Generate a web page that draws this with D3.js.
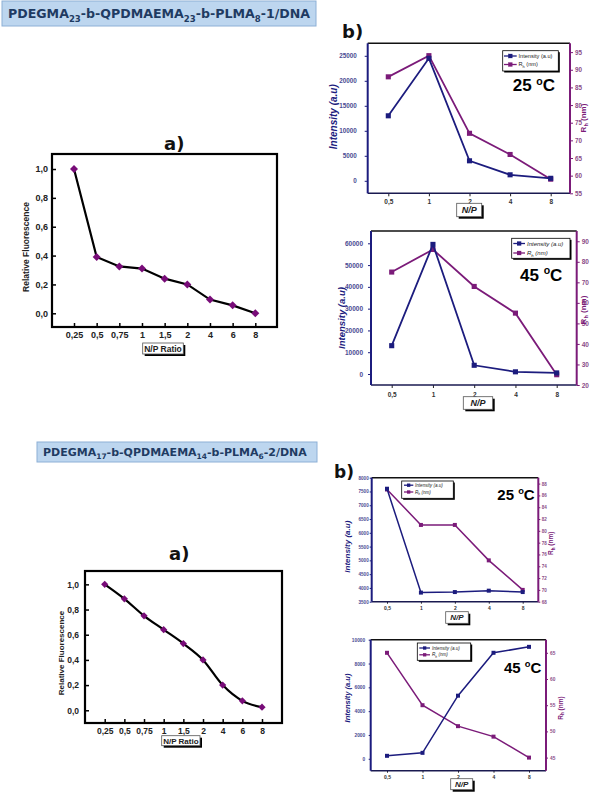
<!DOCTYPE html>
<html><head><meta charset="utf-8">
<script src="https://cdn.jsdelivr.net/npm/d3@7"></script>
<style>body{margin:0;background:#fff}</style>
</head><body>
<svg id="c" width="601" height="794"></svg>
<script>
// ---------- data ----------
const npCats = ["0,25","0,5","0,75","1","1,5","2","4","6","8"];
const fluor1 = [1.0,0.39,0.325,0.31,0.24,0.20,0.095,0.055,0.0];
const fluor2 = [1.0,0.885,0.75,0.64,0.53,0.40,0.20,0.075,0.025];
const fluorTicks = [0,0.2,0.4,0.6,0.8,1.0];

const dlsCats = ["0,5","1","2","4","8"];
const int1_25 = [13000,24500,4000,1200,500];
const rh1_25  = [88,94,72,66,59];
const int1_45 = [13000,59500,4000,1000,500];
const rh1_45  = [75,86,68,55,25];
const int2_25 = [7600,3830,3850,3900,3850];
const rh2_25  = [87,81,81,75,70];
const int2_45 = [250,500,5300,8900,9400];
const rh2_45  = [65,55,51,49,45];

const int1_25Ticks = [0,5000,10000,15000,20000,25000];
const rh1_25Ticks  = [55,60,65,70,75,80,85,90,95];
const int1_45Ticks = [0,10000,20000,30000,40000,50000,60000];
const rh1_45Ticks  = [20,30,40,50,60,70,80,90];
const int2_25Ticks = [3500,4000,4500,5000,5500,6000,6500,7000,7500,8000];
const rh2_25Ticks  = [68,70,72,74,76,78,80,82,84,86,88];
const int2_45Ticks = [0,2000,4000,6000,8000,10000];
const rh2_45Ticks  = [45,50,55,60,65];

// ---------- drawing ----------
const svg = d3.select('#c');
const NAVY = '#1c1c7e', PURP = '#7b1b79', DIAM = '#780c78';
const SANS = 'Liberation Sans, Arial, sans-serif';
const fmtC = d => d.toFixed(1).replace('.', ',');

function titleBox(x, y, w, h, parts, fs, tx, ty) {
  svg.append('rect').attr('x', x).attr('y', y).attr('width', w).attr('height', h)
    .attr('fill', '#bdd6ef').attr('stroke', '#8db0d6').attr('stroke-width', 1);
  const t = svg.append('text').attr('x', tx).attr('y', ty)
    .attr('font-family', 'DejaVu Sans').attr('font-weight', 'bold')
    .attr('font-size', fs).attr('fill', '#1f3b62');
  let prevSub = false;
  parts.forEach(([s, sub]) => {
    const sp = t.append('tspan').text(s);
    if (sub) { sp.attr('font-size', fs * 0.68).attr('dy', fs * 0.28); }
    else if (prevSub) { sp.attr('dy', -fs * 0.28); }
    prevSub = sub;
  });
}

function boxLabel(x0, y0, x1, y1, parts, fs, italic) {
  svg.append('rect').attr('x', x0 + 2).attr('y', y0 + 2).attr('width', x1 - x0).attr('height', y1 - y0).attr('fill', '#000');
  svg.append('rect').attr('x', x0).attr('y', y0).attr('width', x1 - x0).attr('height', y1 - y0)
    .attr('fill', '#fff').attr('stroke', '#555').attr('stroke-width', 0.8);
  svg.append('text').attr('x', (x0 + x1) / 2).attr('y', (y0 + y1) / 2 + fs * 0.36)
    .attr('text-anchor', 'middle').attr('font-family', SANS).attr('font-weight', 'bold')
    .attr('font-style', italic ? 'italic' : 'normal').attr('font-size', fs).attr('fill', '#222').text(parts);
}

function bigLabel(txt, x, y, fs) {
  svg.append('text').attr('x', x).attr('y', y).attr('font-family', 'DejaVu Sans')
    .attr('font-weight', 'bold').attr('font-size', fs).attr('fill', '#111').text(txt);
}

function fluorChart(o, data) {
  const x = d3.scalePoint().domain(npCats).range([o.x0, o.x1]);
  const y = d3.scaleLinear().domain(o.yDom).range([o.b, o.t]);
  const g = svg.append('g');
  const ay = g.append('g').attr('transform', `translate(${o.l},0)`)
    .call(d3.axisLeft(y).tickValues(fluorTicks).tickSize(-4).tickPadding(o.padY).tickFormat(fmtC));
  const ax = g.append('g').attr('transform', `translate(0,${o.b})`)
    .call(d3.axisBottom(x).tickSize(-4).tickPadding(5));
  [ax, ay].forEach(a => {
    a.select('.domain').remove();
    a.selectAll('line').attr('stroke', '#000').attr('stroke-width', 1.5);
    a.selectAll('text').attr('font-family', SANS).attr('font-weight', 'bold')
      .attr('font-size', o.fs).attr('fill', '#222');
  });
  g.append('rect').attr('x', o.l).attr('y', o.t).attr('width', o.r - o.l).attr('height', o.b - o.t)
    .attr('fill', 'none').attr('stroke', '#000').attr('stroke-width', 2.2);
  const pts = npCats.map((c, i) => [x(c), y(data[i])]);
  g.append('path').attr('d', d3.line().curve(o.curve)(pts))
    .attr('fill', 'none').attr('stroke', '#000').attr('stroke-width', 2.2);
  g.selectAll('path.m').data(pts).enter().append('path').attr('class', 'm')
    .attr('d', d3.symbol(d3.symbolSquare, o.ms)())
    .attr('transform', d => `translate(${d[0]},${d[1]}) rotate(45)`).attr('fill', DIAM);
  svg.append('text').attr('transform', `translate(${o.ylx},${o.yly}) rotate(-90)`)
    .attr('text-anchor', 'middle').attr('font-family', SANS).attr('font-weight', 'bold')
    .attr('font-size', o.fs - 0.5).attr('fill', '#222').text('Relative Fluorescence');
}

function rhText(sel, fs) {
  sel.append('tspan').text('R');
  sel.append('tspan').attr('font-size', fs * 0.7).attr('dy', fs * 0.25).text('h');
  sel.append('tspan').attr('dy', -fs * 0.25).text(' (nm)');
}

function dualChart(o, ints, rhs, lTicks, rTicks) {
  const x = d3.scalePoint().domain(dlsCats).range([o.x0, o.x1]);
  const yL = d3.scaleLinear().domain(o.lDom).range([o.b, o.t]);
  const yR = d3.scaleLinear().domain(o.rDom).range([o.b, o.t]);
  const g = svg.append('g');
  const aL = g.append('g').attr('transform', `translate(${o.l},0)`)
    .call(d3.axisLeft(yL).tickValues(lTicks).tickSize(o.tk).tickPadding(o.padL).tickFormat(d3.format('d')));
  const aR = g.append('g').attr('transform', `translate(${o.r},0)`)
    .call(d3.axisRight(yR).tickValues(rTicks).tickSize(o.tk).tickPadding(o.padR).tickFormat(d3.format('d')));
  const aX = g.append('g').attr('transform', `translate(0,${o.b})`)
    .call(d3.axisBottom(x).tickSize(o.tk).tickPadding(o.padX));
  [[aL, NAVY, '#4a4a92'], [aR, PURP, '#8a4c88'], [aX, '#222', '#333']].forEach(([a, lc, tc]) => {
    a.select('.domain').remove();
    a.selectAll('line').attr('stroke', lc).attr('stroke-width', 1);
    a.selectAll('text').attr('font-family', SANS).attr('font-weight', 'bold')
      .attr('font-size', a === aX ? o.fsX : o.fsT).attr('fill', tc);
  });
  g.append('line').attr('x1', o.l).attr('x2', o.r).attr('y1', o.t).attr('y2', o.t).attr('stroke', '#111').attr('stroke-width', 1.6);
  g.append('line').attr('x1', o.l).attr('x2', o.r).attr('y1', o.b).attr('y2', o.b).attr('stroke', '#1a1a50').attr('stroke-width', 1.6);
  g.append('line').attr('x1', o.l).attr('x2', o.l).attr('y1', o.t).attr('y2', o.b).attr('stroke', NAVY).attr('stroke-width', 2);
  g.append('line').attr('x1', o.r).attr('x2', o.r).attr('y1', o.t).attr('y2', o.b).attr('stroke', PURP).attr('stroke-width', 2);
  const ser = [[rhs, yR, PURP], [ints, yL, NAVY]];
  ser.forEach(([vals, sc, col]) => {
    const pts = dlsCats.map((c, i) => [x(c), sc(vals[i])]);
    g.append('path').attr('d', d3.line()(pts)).attr('fill', 'none').attr('stroke', col).attr('stroke-width', o.lw);
    g.selectAll(null).data(pts).enter().append('path')
      .attr('d', d3.symbol(d3.symbolSquare, o.ms)())
      .attr('transform', d => `translate(${d[0]},${d[1]})`).attr('fill', col);
  });
  const L = o.leg;
  g.append('rect').attr('x', L.x0 + 1.5).attr('y', L.y0 + 1.5).attr('width', L.x1 - L.x0).attr('height', L.y1 - L.y0).attr('fill', '#000');
  g.append('rect').attr('x', L.x0).attr('y', L.y0).attr('width', L.x1 - L.x0).attr('height', L.y1 - L.y0)
    .attr('fill', '#fff').attr('stroke', '#000').attr('stroke-width', 0.8);
  [[NAVY, 'int', L.r1], [PURP, 'rh', L.r2]].forEach(([col, kind, ry]) => {
    g.append('line').attr('x1', L.lx0).attr('x2', L.lx1).attr('y1', ry).attr('y2', ry).attr('stroke', col).attr('stroke-width', 1.3);
    g.append('path').attr('d', d3.symbol(d3.symbolSquare, o.ms * 0.7)())
      .attr('transform', `translate(${(L.lx0 + L.lx1) / 2},${ry})`).attr('fill', col);
    const t = g.append('text').attr('x', L.tx).attr('y', ry + L.fs * 0.35).attr('font-family', SANS)
      .attr('font-size', L.fs).attr('font-style', L.it ? 'italic' : 'normal').attr('fill', '#222');
    if (kind === 'int') t.text('Intensity (a.u)'); else rhText(t, L.fs);
  });
  const T = o.temp;
  const tt = g.append('text').attr('x', T.x).attr('y', T.y).attr('font-family', SANS)
    .attr('font-weight', 'bold').attr('font-size', T.fs).attr('fill', '#000');
  tt.append('tspan').text(T.t + ' ');
  tt.append('tspan').attr('font-size', T.fs * 0.62).attr('dy', -T.fs * 0.38).text('o');
  tt.append('tspan').attr('dy', T.fs * 0.38).text('C');
  g.append('text').attr('transform', `translate(${o.ylL[0]},${o.ylL[1]}) rotate(-90)`)
    .attr('text-anchor', 'middle').attr('font-family', SANS).attr('font-weight', 'bold')
    .attr('font-style', 'italic').attr('font-size', o.ylL[2]).attr('fill', NAVY).text('Intensity (a.u)');
  const rt = g.append('text').attr('transform', `translate(${o.ylR[0]},${o.ylR[1]}) rotate(-90)`)
    .attr('text-anchor', 'middle').attr('font-family', SANS).attr('font-weight', 'bold')
    .attr('font-size', o.ylR[2]).attr('fill', PURP);
  rhText(rt, o.ylR[2]);
  boxLabel(o.np[0], o.np[1], o.np[2], o.np[3], 'N/P', o.np[4], true);
}

// ---------- titles ----------
titleBox(2, 1, 314, 25, [["PDEGMA",0],["23",1],["-b-QPDMAEMA",0],["23",1],["-b-PLMA",0],["8",1],["-1/DNA",0]], 12.6, 8, 18);
titleBox(37, 442, 280, 20, [["PDEGMA",0],["17",1],["-b-QPDMAEMA",0],["14",1],["-b-PLMA",0],["6",1],["-2/DNA",0]], 11, 43, 455.5);

// ---------- a) charts ----------
bigLabel('a)', 164, 150, 18);
fluorChart({l: 52, t: 154, r: 277, b: 327, x0: 74, x1: 255.3, yDom: [-0.095, 1.104],
  fs: 9, padY: 4, ms: 32, ylx: 29, yly: 247, curve: d3.curveLinear}, fluor1);
boxLabel(142.7, 343, 183.3, 354, 'N/P Ratio', 8.5, false);

bigLabel('a)', 169, 560, 18);
fluorChart({l: 85, t: 571, r: 282, b: 723, x0: 104.7, x1: 262, yDom: [-0.101, 1.106],
  fs: 8.5, padY: 6, ms: 26, ylx: 64, yly: 653, curve: d3.curveMonotoneX}, fluor2);
boxLabel(161.7, 735.7, 200, 745.7, 'N/P Ratio', 8, false);

// ---------- b) charts ----------
bigLabel('b)', 342, 38, 18);
dualChart({l: 367.7, t: 43.3, r: 570, b: 193.3, x0: 388.3, x1: 550.7,
  lDom: [-2500, 27500], rDom: [55, 97.5], tk: 3, padL: 8, padR: 2, padX: 3,
  fsT: 6.3, fsX: 6.5, lw: 1.8, ms: 26,
  leg: {x0: 502.7, y0: 50.7, x1: 558.3, y1: 71, r1: 56, r2: 64.5, lx0: 504, lx1: 516.7, tx: 518.5, fs: 5.6, it: false},
  temp: {t: '25', x: 512.7, y: 91, fs: 17},
  ylL: [336.7, 116.7, 10], ylR: [586, 118, 8],
  np: [456.7, 203.3, 481.7, 216.7, 9]}, int1_25, rh1_25, int1_25Ticks, rh1_25Ticks);

dualChart({l: 371, t: 231, r: 576.7, b: 385, x0: 391.7, x1: 556.7,
  lDom: [-5050, 65650], rDom: [20, 95], tk: 3, padL: 5, padR: 2, padX: 4,
  fsT: 6.5, fsX: 6.5, lw: 1.8, ms: 26,
  leg: {x0: 511.7, y0: 238.3, x1: 570, y1: 258.3, r1: 243.5, r2: 253, lx0: 513.3, lx1: 525, tx: 527, fs: 6, it: true},
  temp: {t: '45', x: 520, y: 280.5, fs: 17},
  ylL: [345, 318, 9.5], ylR: [586, 310, 8],
  np: [463.3, 396.7, 492.7, 409.3, 9]}, int1_45, rh1_45, int1_45Ticks, rh1_45Ticks);

bigLabel('b)', 334, 478, 17);
dualChart({l: 371.7, t: 477.7, r: 538.3, b: 601.7, x0: 387, x1: 522.7,
  lDom: [3500, 8000], rDom: [68, 89], tk: 2, padL: 1, padR: 1.5, padX: 3,
  fsT: 4.6, fsX: 5, lw: 1.5, ms: 16,
  leg: {x0: 401.7, y0: 481, x1: 453.3, y1: 498.3, r1: 485.2, r2: 492, lx0: 404, lx1: 413.3, tx: 415, fs: 4.6, it: true},
  temp: {t: '25', x: 497.3, y: 500, fs: 15},
  ylL: [350, 546.7, 8], ylR: [553.3, 543.3, 6.5],
  np: [445.7, 611.7, 468.3, 623.3, 8]}, int2_25, rh2_25, int2_25Ticks, rh2_25Ticks);

dualChart({l: 370.7, t: 639.7, r: 546, b: 770.7, x0: 387, x1: 529,
  lDom: [-1000, 10000], rDom: [42.5, 67.5], tk: 2, padL: 3.5, padR: 2, padX: 2.5,
  fsT: 4.8, fsX: 5, lw: 1.5, ms: 16,
  leg: {x0: 417.3, y0: 643, x1: 470.7, y1: 660.3, r1: 648, r2: 654.8, lx0: 419.3, lx1: 430, tx: 432, fs: 4.6, it: true},
  temp: {t: '45', x: 504, y: 673, fs: 15},
  ylL: [350, 698, 7.5], ylR: [562.7, 708, 6.5],
  np: [450.7, 778.7, 472.7, 789.7, 8]}, int2_45, rh2_45, int2_45Ticks, rh2_45Ticks);
</script>
</body></html>
